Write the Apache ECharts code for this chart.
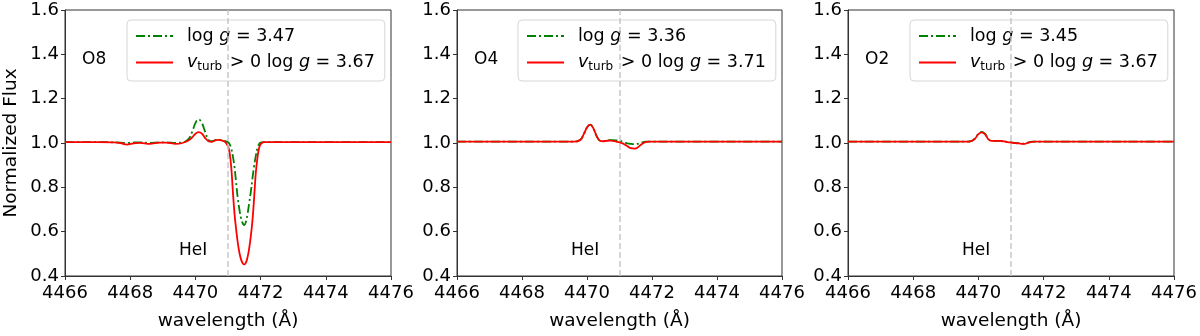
<!DOCTYPE html>
<html lang="en">
<head>
    <meta charset="UTF-8">
    <title>HeI 4471 profiles</title>
    <script src="https://cdn.jsdelivr.net/npm/echarts@6/dist/echarts.min.js"></script>
    <style>
        body { margin: 0; background: #fff; }
        #chart { width: 1200px; height: 336px; }
    </style>
</head>
<body>
    <div id="chart"></div>
    <script>
        // wavelength samples (Angstrom), shared by all curves
        const wavelength = [4466, 4466.5, 4467, 4467.5, 4467.7, 4467.9, 4468.1, 4468.3, 4468.6, 4468.9,
            4469.1, 4469.4, 4469.6, 4469.8, 4469.9, 4470.0, 4470.1, 4470.2, 4470.3, 4470.4,
            4470.5, 4470.6, 4470.7, 4470.8, 4470.9, 4471.0, 4471.05, 4471.1, 4471.15, 4471.2,
            4471.25, 4471.3, 4471.35, 4471.4, 4471.45, 4471.5, 4471.55, 4471.6, 4471.65, 4471.7,
            4471.75, 4471.8, 4471.85, 4471.9, 4471.95, 4472.0, 4472.1, 4472.3, 4473, 4474,
            4475, 4476];

        // O8
        const o8Green = [1.004, 1.004, 1.004, 1.003, 1.002, 1.000, 1.002, 1.003, 1.001, 1.003,
            1.003, 1.001, 1.002, 1.020, 1.050, 1.090, 1.107, 1.090, 1.050, 1.015,
            1.008, 1.012, 1.016, 1.013, 1.010, 1.003, 0.995, 0.975, 0.940, 0.890,
            0.820, 0.750, 0.700, 0.660, 0.638, 0.630, 0.645, 0.680, 0.730, 0.780,
            0.840, 0.895, 0.940, 0.975, 0.995, 1.002, 1.004, 1.004, 1.004, 1.004,
            1.004, 1.004];
        const o8Red = [1.004, 1.004, 1.004, 1.003, 1.000, 0.993, 0.998, 1.001, 0.996, 1.002,
            1.002, 0.996, 1.000, 1.012, 1.025, 1.042, 1.049, 1.042, 1.022, 1.008,
            1.005, 1.012, 1.014, 1.012, 1.006, 0.985, 0.955, 0.890, 0.780, 0.680,
            0.610, 0.550, 0.505, 0.475, 0.458, 0.452, 0.460, 0.485, 0.525, 0.580,
            0.650, 0.750, 0.860, 0.930, 0.975, 0.995, 1.004, 1.004, 1.004, 1.004,
            1.004, 1.004];

        // O4
        const o4Green = [1.006, 1.006, 1.006, 1.006, 1.006, 1.006, 1.006, 1.006, 1.006, 1.006,
            1.006, 1.006, 1.006, 1.015, 1.040, 1.070, 1.083, 1.065, 1.030, 1.010,
            1.008, 1.012, 1.013, 1.013, 1.012, 1.010, 1.008, 1.005, 1.002, 1.000,
            0.998, 0.997, 0.996, 0.995, 0.995, 0.995, 0.996, 0.998, 1.000, 1.003,
            1.005, 1.006, 1.006, 1.006, 1.006, 1.006, 1.006, 1.006, 1.006, 1.006,
            1.006, 1.006];
        const o4Red = [1.006, 1.006, 1.006, 1.006, 1.006, 1.006, 1.006, 1.006, 1.006, 1.006,
            1.006, 1.006, 1.006, 1.015, 1.040, 1.070, 1.083, 1.065, 1.030, 1.010,
            1.008, 1.010, 1.011, 1.010, 1.006, 1.003, 1.000, 0.998, 0.994, 0.990,
            0.985, 0.980, 0.977, 0.976, 0.975, 0.976, 0.979, 0.985, 0.991, 0.997,
            1.001, 1.004, 1.005, 1.006, 1.006, 1.006, 1.006, 1.006, 1.006, 1.006,
            1.006, 1.006];

        // O2
        const o2Green = [1.006, 1.006, 1.006, 1.006, 1.006, 1.006, 1.006, 1.006, 1.006, 1.006,
            1.006, 1.006, 1.006, 1.010, 1.022, 1.042, 1.050, 1.042, 1.020, 1.010,
            1.010, 1.010, 1.009, 1.007, 1.005, 1.003, 1.002, 1.001, 1.000, 0.999,
            0.999, 0.998, 0.997, 0.997, 0.998, 1.001, 1.003, 1.005, 1.006, 1.006,
            1.006, 1.006, 1.006, 1.006, 1.006, 1.006, 1.006, 1.006, 1.006, 1.006,
            1.006, 1.006];
        const o2Red = [1.006, 1.006, 1.006, 1.006, 1.006, 1.006, 1.006, 1.006, 1.006, 1.006,
            1.006, 1.006, 1.006, 1.010, 1.020, 1.040, 1.048, 1.040, 1.018, 1.010,
            1.010, 1.010, 1.009, 1.007, 1.004, 1.002, 1.001, 1.000, 0.999, 0.998,
            0.998, 0.997, 0.996, 0.996, 0.997, 1.000, 1.002, 1.004, 1.005, 1.006,
            1.006, 1.006, 1.006, 1.006, 1.006, 1.006, 1.006, 1.006, 1.006, 1.006,
            1.006, 1.006];

        const panelNames = ['O8', 'O4', 'O2'];
        const loggPlain = ['3.47', '3.36', '3.45'];
        const loggTurb = ['3.67', '3.71', '3.67'];
        const heLine = 4471;

        const xTicks = [4466, 4476, 2];
        const yTicks = [0.4, 1.6, 0.2];

        const greens = [o8Green, o4Green, o2Green];
        const reds = [o8Red, o4Red, o2Red];

        const gridLeft = [65, 457, 848];
        const gridWidth = [326, 325, 326];
        const legendLeft = [127, 518, 910];

        const font = 'DejaVu Sans';
        const pairs = arr => wavelength.map((w, i) => [w, arr[i]]);

        const grids = [], xAxes = [], yAxes = [], series = [], legends = [], graphics = [];
        const labelMap = {};

        panelNames.forEach((p, k) => {
            grids.push({ left: gridLeft[k], top: 10, width: gridWidth[k], height: 270,
                show: true, borderColor: '#333', borderWidth: 1 });
            xAxes.push({
                gridIndex: k, type: 'value', min: xTicks[0], max: xTicks[1], interval: xTicks[2],
                name: 'wavelength (Å)', nameLocation: 'middle', nameGap: 36,
                nameTextStyle: { fontFamily: font, fontSize: 18.5, color: '#000' },
                axisLine: { show: true, lineStyle: { color: '#333' } },
                axisTick: { show: true, inside: false, length: 4, lineStyle: { color: '#333' } },
                axisLabel: { margin: 8, fontFamily: font, fontSize: 18, color: '#000',
                    formatter: v => String(v) },
                splitLine: { show: false }
            });
            yAxes.push({
                gridIndex: k, type: 'value', min: yTicks[0], max: yTicks[1], interval: yTicks[2],
                name: k === 0 ? 'Normalized Flux' : '', nameLocation: 'middle', nameGap: 44,
                nameTextStyle: { fontFamily: font, fontSize: 18.5, color: '#000' },
                axisLine: { show: true, lineStyle: { color: '#333' } },
                axisTick: { show: true, inside: false, length: 4, lineStyle: { color: '#333' } },
                axisLabel: { margin: 6, fontFamily: font, fontSize: 18, color: '#000',
                    formatter: v => v.toFixed(1) },
                splitLine: { show: false }
            });

            const gName = 'g' + k, rName = 'r' + k;
            labelMap[gName] = '{sp| }{n|log }{i|g}{n| = ' + loggPlain[k] + '}';
            labelMap[rName] = '{sp| }{i|v}{s|turb}{n| > 0 log }{i|g}{n| = ' + loggTurb[k] + '}';

            series.push({
                name: gName, type: 'line', xAxisIndex: k, yAxisIndex: k,
                data: pairs(greens[k]), showSymbol: false, symbol: 'none',
                smooth: 0.4,
                lineStyle: { color: '#008000', width: 1.8, type: [9, 3, 2, 3] },
                itemStyle: { color: '#008000' },
                markLine: {
                    silent: true, symbol: ['none', 'none'], label: { show: false },
                    lineStyle: { color: '#c8c8c8', width: 1.5, type: [6, 3] },
                    data: [{ xAxis: heLine }]
                },
                z: 2
            });
            series.push({
                name: rName, type: 'line', xAxisIndex: k, yAxisIndex: k,
                data: pairs(reds[k]), showSymbol: false, symbol: 'none',
                smooth: 0.4,
                lineStyle: { color: '#ff0000', width: 1.8 },
                itemStyle: { color: '#ff0000' },
                z: 3
            });

            legends.push({
                data: [gName, rName], orient: 'vertical', left: legendLeft[k], top: 20,
                itemWidth: 37, itemHeight: 14, itemGap: 7,
                padding: [7, 10, 8, 8],
                backgroundColor: 'rgba(255,255,255,0.8)',
                borderColor: '#d6d6d6', borderWidth: 1, borderRadius: 4,
                selectedMode: false,
                itemStyle: { opacity: 0 },
                formatter: name => labelMap[name],
                textStyle: {
                    fontFamily: font, fontSize: 17.5, color: '#000',
                    rich: {
                        sp: { width: 9, fontSize: 17.5, lineHeight: 22 },
                        n: { fontFamily: font, fontSize: 17.5, color: '#000', lineHeight: 22 },
                        i: { fontFamily: font, fontSize: 17.5, fontStyle: 'italic', color: '#000', lineHeight: 22 },
                        s: { fontFamily: font, fontSize: 12, color: '#000', lineHeight: 22,
                            padding: [9, 2, 0, 0] }
                    }
                }
            });

            graphics.push({
                type: 'text', left: gridLeft[k] + 29 - 12, top: 51,
                style: { text: p, font: '17px "DejaVu Sans"', fill: '#000' }
            });
            graphics.push({
                type: 'text', left: gridLeft[k] + 129 - 15, top: 242,
                style: { text: 'HeI', font: '17px "DejaVu Sans"', fill: '#000' }
            });
        });

        const chart = echarts.init(document.getElementById('chart'));
        chart.setOption({
            animation: false,
            grid: grids,
            xAxis: xAxes,
            yAxis: yAxes,
            legend: legends,
            series: series,
            graphic: graphics
        });
    </script>
</body>
</html>
